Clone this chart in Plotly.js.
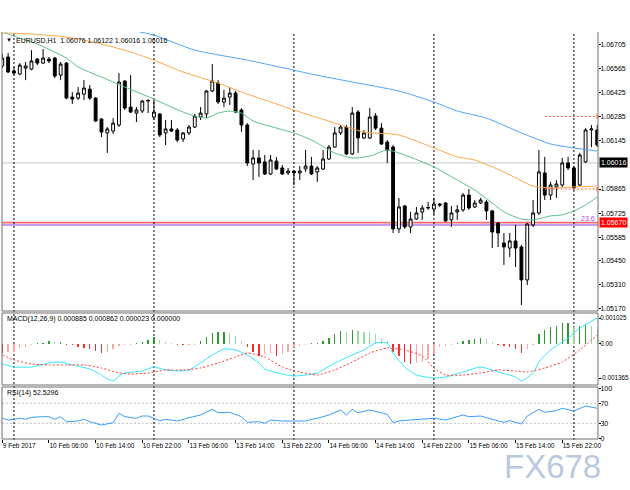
<!DOCTYPE html>
<html><head><meta charset="utf-8">
<script src="https://cdn.plot.ly/plotly-3.0.1.min.js"></script>
<style>html,body{margin:0;padding:0;background:#fff}#chart{width:630px;height:490px}</style>
</head><body><div id="chart"></div>
<script>
// ---------- data ----------
const symbolHeader = 'EURUSD,H1  1.06076 1.06122 1.06016 1.06016';
const macdHeader = 'MACD(12,26,9) 0.000885 0.000862 0.000023 0.000000';
const rsiHeader = 'RSI(14) 52.5296';

const tickBars = [0,8,16,24,32,40,48,56,64,72,80,88,96];
const tickLabels = ['9 Feb 2017','10 Feb 06:00','10 Feb 14:00','10 Feb 22:00','13 Feb 06:00','13 Feb 14:00','13 Feb 22:00','14 Feb 06:00','14 Feb 14:00','14 Feb 22:00','15 Feb 06:00','15 Feb 14:00','15 Feb 22:00'];
const daySeparatorBars = [2,26,50,74,98];

const priceTicks = [1.06705,1.06565,1.06425,1.06285,1.06145,1.05865,1.05725,1.05585,1.05450,1.05310,1.05170];
const macdTicks = [0.001025,0,-0.001365];
const macdTickText = ['0.001025','0.00','-0.001365'];
const rsiTicks = [100,70,30,0];
const rsiLevels = [70,30];

const openP = [1.06578,1.06630,1.06549,1.06531,1.06566,1.06560,1.06618,1.06595,1.06618,1.06624,
1.06525,1.06595,1.06398,1.06392,1.06415,1.06444,1.06392,1.06271,1.06190,1.06201,
1.06236,1.06491,1.06340,1.06305,1.06317,1.06375,1.06282,1.06300,1.06190,1.06213,
1.06207,1.06155,1.06190,1.06224,1.06282,1.06300,1.06433,1.06479,1.06369,1.06398,
1.06421,1.06323,1.06236,1.06010,1.06045,1.06022,1.05952,1.06027,1.05987,1.05958,
1.05969,1.05958,1.05981,1.05998,1.05964,1.05981,1.06039,1.06108,1.06190,1.06224,
1.06068,1.06311,1.06161,1.06161,1.06288,1.06218,1.06137,1.06108,1.05634,1.05767,
1.05645,1.05691,1.05732,1.05755,1.05749,1.05778,1.05784,1.05686,1.05732,1.05744,
1.05830,1.05761,1.05784,1.05790,1.05738,1.05668,1.05552,1.05523,1.05564,1.05529,
1.05338,1.05657,1.05726,1.05958,1.05830,1.05877,1.05888,1.06016,1.05987,1.05888,
1.06022,1.06207,1.06207];
const highP = [1.06647,1.06653,1.06572,1.06595,1.06601,1.06670,1.06624,1.06676,1.06630,1.06630,
1.06601,1.06601,1.06427,1.06456,1.06496,1.06468,1.06398,1.06276,1.06224,1.06276,
1.06537,1.06496,1.06525,1.06340,1.06381,1.06386,1.06381,1.06305,1.06265,1.06265,
1.06218,1.06195,1.06236,1.06300,1.06340,1.06439,1.06589,1.06496,1.06439,1.06456,
1.06433,1.06334,1.06247,1.06091,1.06091,1.06062,1.06062,1.06051,1.06004,1.05987,
1.05975,1.05998,1.06091,1.06051,1.05998,1.06091,1.06120,1.06224,1.06236,1.06236,
1.06340,1.06323,1.06207,1.06334,1.06305,1.06247,1.06149,1.06120,1.05813,1.05772,
1.05732,1.05761,1.05772,1.05790,1.05813,1.05784,1.05790,1.05767,1.05772,1.05842,
1.05865,1.05801,1.05813,1.05801,1.05744,1.05674,1.05610,1.05610,1.05657,1.05541,
1.05668,1.05801,1.06091,1.06051,1.05906,1.05917,1.06045,1.06051,1.05998,1.06074,
1.06218,1.06236,1.06236];
const lowP = [1.06566,1.06537,1.06525,1.06525,1.06496,1.06554,1.06583,1.06589,1.06595,1.06508,
1.06496,1.06386,1.06358,1.06381,1.06381,1.06381,1.06253,1.06166,1.06074,1.06184,
1.06224,1.06323,1.06305,1.06253,1.06305,1.06305,1.06265,1.06166,1.06120,1.06195,
1.06137,1.06137,1.06178,1.06218,1.06265,1.06276,1.06427,1.06358,1.06340,1.06352,
1.06305,1.06195,1.05998,1.05917,1.05935,1.05946,1.05946,1.05975,1.05946,1.05946,
1.05888,1.05917,1.05964,1.05946,1.05906,1.05975,1.06033,1.06103,1.06178,1.06062,
1.06062,1.06074,1.06155,1.06155,1.06207,1.06120,1.06016,1.05610,1.05610,1.05634,
1.05610,1.05686,1.05686,1.05744,1.05715,1.05761,1.05674,1.05645,1.05686,1.05732,
1.05744,1.05755,1.05778,1.05686,1.05523,1.05529,1.05425,1.05471,1.05413,1.05193,
1.05309,1.05645,1.05715,1.05801,1.05801,1.05813,1.05877,1.05975,1.05859,1.05882,
1.06016,1.06108,1.06108];
const closeP = [1.06624,1.06543,1.06537,1.06583,1.06578,1.06607,1.06595,1.06624,1.06607,1.06520,
1.06589,1.06392,1.06386,1.06421,1.06450,1.06392,1.06259,1.06195,1.06213,1.06247,
1.06485,1.06334,1.06311,1.06323,1.06375,1.06378,1.06311,1.06178,1.06213,1.06201,
1.06149,1.06190,1.06224,1.06288,1.06305,1.06433,1.06491,1.06369,1.06392,1.06421,
1.06311,1.06236,1.06016,1.06045,1.06016,1.05952,1.06033,1.05981,1.05952,1.05969,
1.05958,1.05969,1.05998,1.05952,1.05987,1.06039,1.06108,1.06190,1.06224,1.06068,
1.06305,1.06161,1.06190,1.06282,1.06218,1.06126,1.06091,1.05634,1.05761,1.05645,
1.05691,1.05726,1.05755,1.05758,1.05778,1.05772,1.05680,1.05726,1.05744,1.05830,
1.05755,1.05784,1.05801,1.05738,1.05616,1.05610,1.05529,1.05564,1.05523,1.05338,
1.05662,1.05726,1.05964,1.05830,1.05888,1.05894,1.06016,1.05987,1.05871,1.06062,
1.06207,1.06213,1.06120];

// moving averages read at sample bars
const maSlowBars = [22,26,33,42,50,53,60,68,74,78,83,89,94,98,102];
const maSlow = [1.06786,1.06757,1.06670,1.06612,1.06554,1.06531,1.06485,1.06433,1.06369,1.06317,1.06276,1.06190,1.06126,1.06103,1.06085];
const maMidBars = [0,5,11,17,22,26,31,37,41,45,50,57,62,68,74,78,81,86,91,95,98,102];
const maMid = [1.06769,1.06763,1.06746,1.06705,1.06659,1.06612,1.06543,1.06479,1.06427,1.06381,1.06323,1.06247,1.06195,1.06178,1.06103,1.06051,1.06033,1.05964,1.05882,1.05871,1.05877,1.05882];
const maFastBars = [0,1,6,11,13,17,21,26,29,31,33,35,37,39,41,43,47,50,53,57,60,63,66,69,74,78,81,84,86,89,91,94,96,98,100,102];
const maFast = [1.06786,1.06763,1.06705,1.06624,1.06572,1.06514,1.06456,1.06386,1.06340,1.06311,1.06288,1.06276,1.06305,1.06317,1.06305,1.06259,1.06218,1.06190,1.06149,1.06074,1.06045,1.06056,1.06091,1.06062,1.05993,1.05917,1.05859,1.05784,1.05732,1.05691,1.05686,1.05709,1.05715,1.05738,1.05772,1.05819];

const bidPrice = 1.06016;
const levelLine = 1.05670;
const fibLevel = 1.05657;
const fibLabel = '23.6';
const targetLevels = [1.06285, 1.05865];
const targetFromBar = 93;

// MACD
const macdHist = [-0.000372,-0.000333,-0.000306,-0.000173,-0.000106,-0.000053,0.000027,0.000040,0.000106,0.000067,
0.000093,-0.000027,-0.000053,-0.000106,-0.000160,-0.000200,-0.000293,-0.000372,-0.000333,-0.000200,
-0.000067,-0.000040,-0.000027,0.000027,0.000067,0.000160,0.000266,0.000160,0.000067,0.000027,
-0.000027,-0.000053,-0.000040,-0.000027,0.000106,0.000266,0.000439,0.000466,0.000466,0.000439,
0.000333,0.000133,-0.000133,-0.000333,-0.000466,-0.000399,-0.000372,-0.000466,-0.000399,-0.000333,
-0.000133,-0.000067,-0.000040,0.000027,0.000053,0.000133,0.000239,0.000399,0.000505,0.000466,
0.000572,0.000532,0.000492,0.000466,0.000399,0.000200,0.000106,-0.000333,-0.000466,-0.000732,
-0.000798,-0.000771,-0.000732,-0.000599,-0.000399,-0.000133,-0.000067,-0.000027,0.000027,0.000133,
0.000160,0.000200,0.000239,0.000200,0.000067,-0.000040,-0.000067,-0.000133,-0.000200,-0.000372,
-0.000200,-0.000040,0.000399,0.000559,0.000665,0.000732,0.000825,0.000825,0.000665,0.000732,
0.000771,0.000732,0.000599];
const macdMainBars = [0,2,5,8,10,12,15,17,18,19,20,21,24,26,28,30,32,34,36,38,40,42,44,45,48,50,52,54,57,60,62,64,66,67,69,71,74,76,79,82,85,88,89,91,92,94,97,99,102];
const macdMain = [-0.000798,-0.000918,-0.000918,-0.000758,-0.000718,-0.000838,-0.000998,-0.001237,-0.001397,-0.001476,
-0.001277,-0.001157,-0.001077,-0.000918,-0.001037,-0.001077,-0.001037,-0.000758,-0.000439,-0.000200,
-0.000239,-0.000439,-0.000758,-0.000998,-0.001197,-0.001277,-0.001237,-0.001157,-0.000758,-0.000439,
-0.000239,0.000040,0.000040,-0.000359,-0.000918,-0.001237,-0.001357,-0.001317,-0.001117,-0.000918,
-0.001117,-0.001317,-0.001476,-0.001157,-0.000718,-0.000239,0.000239,0.000638,0.001037];
const macdSignalBars = [0,2,5,8,11,14,17,20,22,25,28,31,34,37,40,42,45,48,51,54,57,60,63,66,69,72,74,76,79,82,85,88,90,93,96,99,102];
const macdSignal = [-0.000439,-0.000638,-0.000798,-0.000838,-0.000838,-0.000838,-0.000958,-0.001157,-0.001197,-0.001157,
-0.001037,-0.001037,-0.000958,-0.000758,-0.000519,-0.000359,-0.000519,-0.000918,-0.001117,-0.001237,
-0.001037,-0.000718,-0.000359,-0.000160,-0.000239,-0.000479,-0.000958,-0.001237,-0.001237,-0.001157,
-0.001037,-0.001077,-0.001117,-0.000958,-0.000718,-0.000239,0.000359];

// RSI
const rsiBars = [0,1,2,3,4,5,7,8,9,10,11,13,14,15,17,19,20,21,23,24,25,27,28,30,32,34,36,37,39,41,42,44,45,46,48,50,52,53,54,56,58,59,60,61,63,65,66,67,68,70,72,74,76,77,79,80,82,84,86,87,89,90,92,93,95,96,98,100,102];
const rsiVals = [40,36.6,38,40,38,42,43.2,43.2,38,43.2,33.2,34.6,38,33.2,26.6,31.2,50,43.2,40,44.6,44.6,35.2,38,34.6,41.2,46.6,58,51.2,52,43.2,32,33.2,30,36.6,34.6,35.2,34.6,38,40,46.6,56.6,46.6,58,51.2,56.6,51.2,48,31.2,34.6,36.6,38.6,40,36.6,40,46.6,43.2,44.6,38,32,35.2,28.6,44.6,58,52,55.2,60,54.6,64.6,60];

// ---------- chart ----------
const bars = openP.map((_, i) => i);
const lastBar = bars[bars.length - 1];
const histColors = macdHist.map((v, i) => {
  const prev = i > 0 ? macdHist[i - 1] : v;
  if (v >= 0) return v >= prev ? '#2e9a2e' : '#9fd89f';
  return v <= prev ? '#ff2a2a' : '#ffa3a3';
});

const FONT = 'Liberation Sans, Arial, sans-serif';
const traces = [
  {type:'candlestick', x:bars, open:openP, high:highP, low:lowP, close:closeP, xaxis:'x', yaxis:'y',
   increasing:{line:{color:'#000', width:1}, fillcolor:'#ffffff'},
   decreasing:{line:{color:'#000', width:1}, fillcolor:'#000000'},
   whiskerwidth:0, hoverinfo:'skip'},
  {type:'scatter', mode:'lines', x:maSlowBars, y:maSlow, yaxis:'y', line:{color:'#4da6ff', width:1, shape:'spline', smoothing:0.6}, hoverinfo:'skip'},
  {type:'scatter', mode:'lines', x:maMidBars, y:maMid, yaxis:'y', line:{color:'#ffa64d', width:1, shape:'spline', smoothing:0.6}, hoverinfo:'skip'},
  {type:'scatter', mode:'lines', x:maFastBars, y:maFast, yaxis:'y', line:{color:'#5cc08a', width:1, shape:'spline', smoothing:0.6}, hoverinfo:'skip'},
  {type:'bar', x:bars, y:macdHist, yaxis:'y2', width:0.22, marker:{color:histColors, line:{width:0}}, hoverinfo:'skip'},
  {type:'scatter', mode:'lines', x:macdMainBars, y:macdMain, yaxis:'y2', line:{color:'#33e6ff', width:1, shape:'spline', smoothing:0.5}, hoverinfo:'skip'},
  {type:'scatter', mode:'lines', x:macdSignalBars, y:macdSignal, yaxis:'y2', line:{color:'#ff3b3b', width:1, dash:'2px,2px', shape:'spline', smoothing:0.5}, hoverinfo:'skip'},
  {type:'scatter', mode:'lines', x:rsiBars, y:rsiVals, yaxis:'y3', line:{color:'#3c9cff', width:1}, hoverinfo:'skip'}
];
targetLevels.forEach(lv => {
  traces.push({type:'scatter', mode:'lines+markers', x:[targetFromBar, lastBar], y:[lv, lv], yaxis:'y',
    line:{color:'#ff6a3d', width:1, dash:'2px,2px'},
    marker:{symbol:'triangle-right', size:[0,6], color:'#ff6a3d'}, hoverinfo:'skip', cliponaxis:false});
});

const borderCol = '#6e6e6e';
const shapes = [];
// main panel border (left, right, bottom)
shapes.push({type:'line', xref:'paper', yref:'y domain', x0:0, x1:0, y0:0, y1:1, line:{color:borderCol, width:1}});
shapes.push({type:'line', xref:'paper', yref:'y domain', x0:1, x1:1, y0:0, y1:1, line:{color:borderCol, width:1}});
shapes.push({type:'line', xref:'paper', yref:'y domain', x0:0, x1:1, y0:0, y1:0, line:{color:borderCol, width:1}});
['y2 domain','y3 domain'].forEach(r => shapes.push({type:'rect', xref:'paper', yref:r, x0:0, x1:1, y0:0, y1:1, line:{color:borderCol, width:1}}));
// bid line and levels
shapes.push({type:'line', xref:'paper', yref:'y', x0:0, x1:1, y0:bidPrice, y1:bidPrice, line:{color:'#c8c8c8', width:1}, layer:'below'});
shapes.push({type:'line', xref:'paper', yref:'y', x0:0, x1:1, y0:levelLine, y1:levelLine, line:{color:'#ff6b6b', width:1.6}, layer:'below'});
shapes.push({type:'line', xref:'paper', yref:'y', x0:0, x1:1, y0:fibLevel, y1:fibLevel, line:{color:'#c49cf0', width:2}, layer:'below'});
// RSI levels
rsiLevels.forEach(l => shapes.push({type:'line', xref:'paper', yref:'y3', x0:0, x1:1, y0:l, y1:l, line:{color:'#c0c0c0', width:1, dash:'2px,2px'}, layer:'below'}));
// day separators
daySeparatorBars.forEach(b => shapes.push({type:'line', xref:'x', yref:'paper', x0:b, x1:b, y0:0, y1:1, line:{color:'#000', width:1, dash:'2px,2px'}, layer:'below'}));

const pxX = X => (X - 2) / 596;
const pxY = Y => (440 - Y) / 408;
const annotations = [
  {xref:'paper', yref:'paper', x:pxX(4), y:pxY(40), xanchor:'left', yanchor:'middle', text:'▼', showarrow:false, font:{size:6, color:'#000', family:FONT}},
  {xref:'paper', yref:'paper', x:pxX(14), y:pxY(40), xanchor:'left', yanchor:'middle', text:symbolHeader, showarrow:false, font:{size:7, color:'#000', family:FONT}},
  {xref:'paper', yref:'paper', x:pxX(5), y:pxY(319), xanchor:'left', yanchor:'middle', text:macdHeader, showarrow:false, font:{size:7, color:'#000', family:FONT}},
  {xref:'paper', yref:'paper', x:pxX(5), y:pxY(393), xanchor:'left', yanchor:'middle', text:rsiHeader, showarrow:false, font:{size:7, color:'#000', family:FONT}},
  {xref:'paper', yref:'y', x:1, y:bidPrice, xanchor:'left', yanchor:'middle', xshift:1, text:bidPrice.toFixed(5), showarrow:false, bgcolor:'#000', borderpad:1, font:{size:7, color:'#fff', family:FONT}},
  {xref:'paper', yref:'y', x:1, y:levelLine, xanchor:'left', yanchor:'middle', xshift:1, text:levelLine.toFixed(5), showarrow:false, bgcolor:'#ff0000', borderpad:1, font:{size:7, color:'#fff', family:FONT}},
  {xref:'paper', yref:'y', x:1, y:levelLine, xanchor:'right', yanchor:'bottom', xshift:-1, yshift:-1, text:fibLabel, showarrow:false, font:{size:7, color:'#b347e6', family:FONT}},
  {xref:'paper', yref:'paper', x:pxX(502), y:pxY(466), xanchor:'left', yanchor:'middle', text:'FX678', showarrow:false, font:{size:33, color:'rgba(172,192,218,0.85)', family:FONT}}
];

const axisBase = {showgrid:false, zeroline:false, fixedrange:true, side:'right', anchor:'x', ticks:'outside', ticklen:2, tickcolor:'#000', ticklabelstandoff:-2, tickfont:{size:7, color:'#000', family:FONT}};
const layout = {
  width:630, height:490,
  margin:{l:2, r:32, t:32, b:50, pad:0},
  paper_bgcolor:'#fff', plot_bgcolor:'#fff',
  showlegend:false, bargap:0,
  font:{family:FONT, size:7, color:'#000'},
  xaxis:{range:[-0.05, 102.13], anchor:'y3', showgrid:false, zeroline:false, fixedrange:true, showline:false,
         tickvals:tickBars, ticktext:tickLabels, ticks:'outside', ticklen:3, tickcolor:'#000', tickangle:0,
         ticklabelposition:'outside right', tickfont:{size:6.5, color:'#000', family:FONT}, rangeslider:{visible:false}},
  yaxis:Object.assign({}, axisBase, {domain:[0.3162, 1], range:[1.05158, 1.06775], tickvals:priceTicks, tickformat:'.5f'}),
  yaxis2:Object.assign({}, axisBase, {domain:[0.1348, 0.3113], range:[-0.001636, 0.001236], tickvals:macdTicks, ticktext:macdTickText, tickfont:{size:6.3, color:'#000', family:FONT}}),
  yaxis3:Object.assign({}, axisBase, {domain:[0.00245, 0.1299], range:[-1.4, 102.6], tickvals:rsiTicks, ticktext:rsiTicks.map(String)}),
  shapes:shapes, annotations:annotations
};
Plotly.newPlot('chart', traces, layout, {staticPlot:true, displayModeBar:false});
</script>
</body></html>
